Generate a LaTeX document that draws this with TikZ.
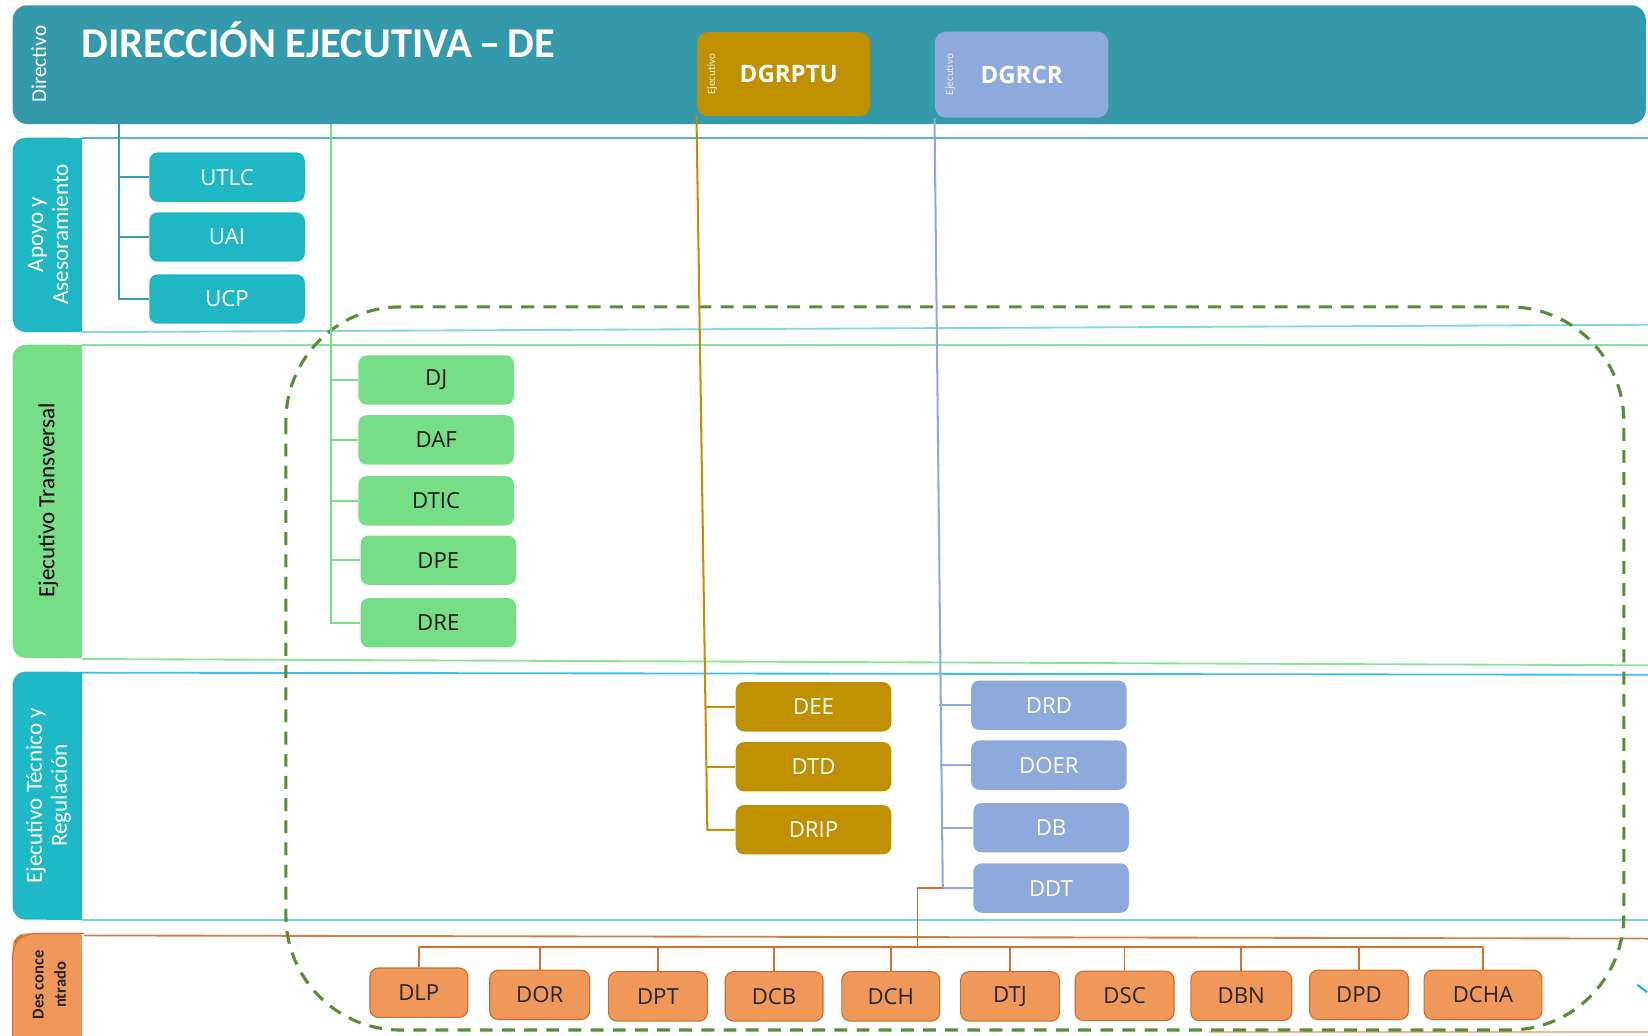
\documentclass[tikz,border=0pt]{standalone}
\usepackage{fontspec}
\setmainfont{Open Sans}
\newfontfamily\lanefont{Carlito}
\usepackage{xcolor}
\usetikzlibrary{positioning,calc}

\definecolor{deTeal}{HTML}{3499AB}
\definecolor{unitTeal}{HTML}{1FB7C3}
\definecolor{transGreen}{HTML}{76DE86}
\definecolor{tecTeal}{HTML}{1FB8C6}
\definecolor{tecLine}{HTML}{3CBDEB}
\definecolor{gold}{HTML}{BF9000}
\definecolor{slate}{HTML}{8EA9DB}
\definecolor{descOrange}{HTML}{F0985A}
\definecolor{orangeEdge}{HTML}{CF6A27}
\definecolor{orangeLine}{HTML}{D2702F}
\definecolor{dashGreen}{HTML}{5B8C3A}
\definecolor{tealLine}{HTML}{3A9DB0}

\begin{document}
\begin{tikzpicture}[x=0.02cm, y=-0.02cm,
    unit/.style={rectangle, rounded corners=4.5pt, minimum width=2.96cm, minimum height=0.94cm, inner sep=0pt, font=\fontsize{12}{14}\selectfont},
    teal unit/.style={unit, fill=unitTeal, text=white},
    green unit/.style={unit, fill=transGreen, text=black!90},
    gold unit/.style={unit, fill=gold, text=white},
    slate unit/.style={unit, fill=slate, text=white},
    orange unit/.style={unit, fill=descOrange, draw=orangeEdge, line width=0.6pt, text=black!85},
    head/.style={rectangle, rounded corners=6pt, minimum width=3.3cm, minimum height=1.6cm, inner sep=0pt, text=white, font=\bfseries\fontsize{13}{15}\selectfont},
    tag/.style={rotate=90, text=white!85!gray, font=\lanefont\fontsize{6}{7}\selectfont, inner sep=0pt},
    lane text/.style={rotate=90, align=center, inner sep=0pt, font=\lanefont\fontsize{12.5}{13.5}\selectfont},
    trunk/.style={line width=1.1pt},
  ]
    \useasboundingbox (0,0) rectangle (1568,985);

    % lanes
    \fill[deTeal, rounded corners=8pt] (12,5) rectangle (1566,118);
    \foreach \c/\ya/\yb in {unitTeal/131/316, transGreen/328/626, tecTeal/639/875, descOrange/888/995} {
        \fill[\c, rounded corners=7pt] (12,\ya) rectangle (78,\yb);
        \fill[\c] (45,\ya) rectangle (78,\yb);
    }
    \draw[orangeEdge, line width=0.6pt, rounded corners=7pt] (80,888) -- (22,888) -- (12,898) -- (12,995);
    \draw[tealLine!80, line width=1pt] (78,131) -- (1568,131);
    \draw[unitTeal!55, line width=1pt] (78,316) -- (1568,309);
    \draw[transGreen!85, line width=1pt] (78,328) -- (1568,328);
    \draw[transGreen!85, line width=1pt] (78,627) -- (1568,633);
    \draw[tecLine, line width=1pt] (78,640) -- (1568,642);
    \draw[tecTeal!60, line width=1pt] (78,875) -- (1568,875);
    \draw[descOrange!85!black, line width=1pt] (80,890) -- (1568,893);
    \draw[descOrange!70, line width=1pt] (1150,982) -- (1568,982);
    \draw[tecTeal, line width=1.2pt] (1558,937) -- (1567,944);

    \node[lane text, text=white, font=\lanefont\fontsize{11.5}{13}\selectfont] (laneDir) at (37,61) {Directivo};
    \node[lane text, text=white] (laneApoyo) at (46,223) {Apoyo y\\Asesoramiento};
    \node[lane text, text=black] (laneTrans) at (46,476) {Ejecutivo Transversal};
    \node[lane text, text=white] (laneTec) at (46,757) {Ejecutivo Técnico y\\Regulación};
    \node[lane text, text=black!85, font=\lanefont\bfseries\fontsize{9}{12}\selectfont] (laneDesc) at (47,937) {Des conce\\ntrado};

    \node[anchor=west, inner sep=0pt, text=white, font=\lanefont\bfseries\fontsize{23}{27}\selectfont] (DE) at (77,38) {DIRECCIÓN EJECUTIVA\,–\,DE};

    % dashed area
    \draw[dashGreen, line width=1.7pt, dash pattern=on 7pt off 5pt, rounded corners=62pt] (272,292) rectangle (1545,980);

    % heads
    \node[head, fill=gold] (DGRPTU) at (745.5,70.5) {\hspace*{0.2cm}DGRPTU};
    \node[tag] (DGRPTUtag) at ($(DGRPTU.west)+(15,0)$) {Ejecutivo};
    \node[head, fill=slate, minimum height=1.64cm] (DGRCR) at (972,71) {DGRCR};
    \node[tag] (DGRCRtag) at ($(DGRCR.west)+(15,0)$) {Ejecutivo};

    % units
    \foreach \n/\x/\y in {UTLC/216/168.5, UAI/216/225.5, UCP/216/284.5}
        \node[teal unit] (\n) at (\x,\y) {\n};
    \foreach \n/\x/\y in {DJ/415/361.5, DAF/415/418.5, DTIC/415/476.5, DPE/417/533, DRE/417/592.5}
        \node[green unit] (\n) at (\x,\y) {\n};
    \foreach \n/\x/\y in {DEE/774/672.5, DTD/774/729.5, DRIP/774/789.5}
        \node[gold unit] (\n) at (\x,\y) {\n};
    \foreach \n/\x/\y in {DRD/998/671, DOER/998/728, DB/1000/787.5, DDT/1000/845}
        \node[slate unit] (\n) at (\x,\y) {\n};
    \foreach \n/\x/\y/\w in {DLP/398.5/944.5/1.86, DOR/513.5/946.5/1.9, DPT/626/948/1.88, DCB/736.5/948/1.86, DCH/847.5/948/1.86, DTJ/961/948/1.88, DSC/1070/947.5/1.88, DBN/1181/947.5/1.92, DPD/1293/946.5/1.88, DCHA/1411/946.5/2.24}
        \node[orange unit, minimum width=\w cm] (\n) at (\x,\y) {\n};

    % connectors
    \coordinate (apoyoTop) at (113,118);
    \coordinate (transTop) at (315,118);
    \draw[tealLine, trunk] (apoyoTop) |- (UCP.west);
    \foreach \n in {UTLC,UAI}
        \draw[tealLine, trunk] (apoyoTop |- \n.west) -- (\n.west);
    \draw[transGreen, trunk] (transTop) |- (DRE.west);
    \foreach \n in {DJ,DAF,DTIC,DPE}
        \draw[transGreen, trunk] (transTop |- \n.west) -- (\n.west);

    \coordinate (goldEnd) at (673,789.5);
    \draw[gold, trunk] (DGRPTU.south west) -- (goldEnd) -- (DRIP.west);
    \foreach \n/\x in {DEE/671.3, DTD/672}
        \draw[gold, trunk] (\x,0 |- \n.west) -- (\n.west);

    \coordinate (slateEnd) at (897,845);
    \draw[slate, trunk] (DGRCR.south west) -- (slateEnd) -- (DDT.west);
    \foreach \n/\x in {DRD/893.5, DOER/894.5, DB/895.5}
        \draw[slate, trunk] (\x,0 |- \n.west) -- (\n.west);

    \coordinate (descBus) at (873,901);
    \draw[orangeLine, line width=0.9pt] (slateEnd) -| (descBus);
    \draw[orangeLine, line width=0.9pt] (DLP.north |- descBus) -- (DCHA.north |- descBus);
    \foreach \n in {DLP,DOR,DPT,DCB,DCH,DTJ,DSC,DBN,DPD,DCHA}
        \draw[orangeLine, line width=0.9pt] (\n.north |- descBus) -- (\n.north);
\end{tikzpicture}
\end{document}
